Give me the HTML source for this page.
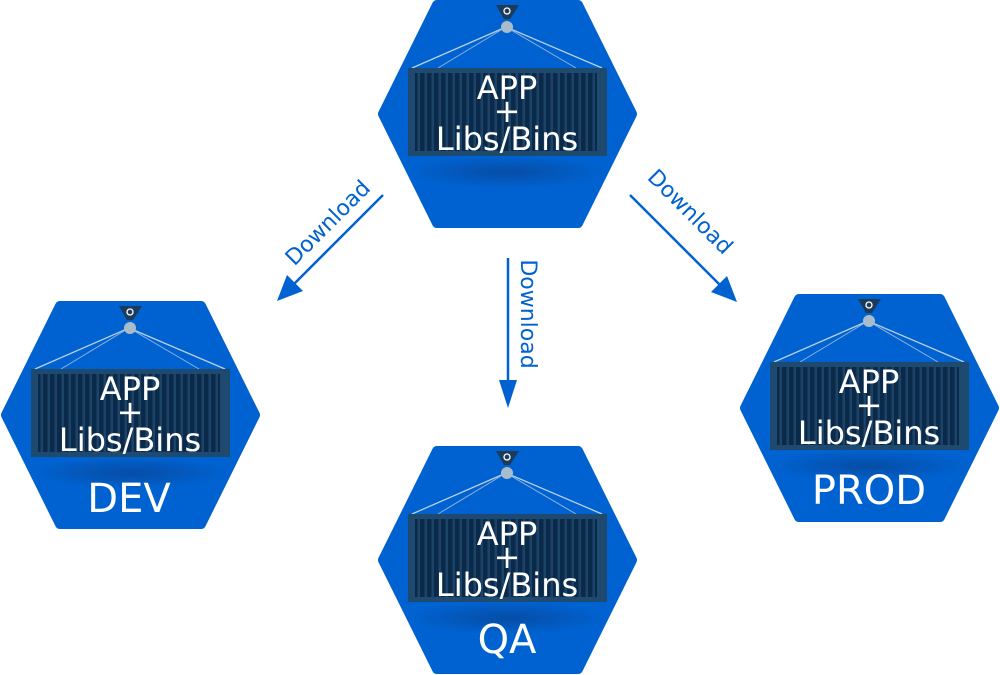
<!DOCTYPE html>
<html><head><meta charset="utf-8"><style>
html,body{margin:0;padding:0;background:#fff;width:1000px;height:675px;overflow:hidden}
text{font-family:"DejaVu Sans","Liberation Sans",sans-serif}
</style></head><body>
<svg width="1000" height="675" viewBox="0 0 1000 675" xmlns="http://www.w3.org/2000/svg">
<defs>
<pattern id="str" x="0" y="0" width="7" height="10" patternUnits="userSpaceOnUse">
<rect width="7" height="10" fill="#1c4468"/>
<rect x="1" width="4.5" height="10" fill="#0b2a4a"/>
</pattern>
<radialGradient id="sh" cx="0.5" cy="0.5" r="0.5">
<stop offset="0" stop-color="#0a3f8a" stop-opacity="0.6"/>
<stop offset="1" stop-color="#0a3f8a" stop-opacity="0"/>
</radialGradient>
<g id="hex">
<polygon points="6,114 60,5 201,5 255,114 201,223 60,223" fill="#0062d0" stroke="#0062d0" stroke-width="10" stroke-linejoin="round"/>
<ellipse cx="130" cy="172" rx="100" ry="16" fill="url(#sh)"/>
<line x1="129" y1="27" x2="35" y2="68" stroke="#b8cfe6" stroke-width="1.3"/>
<line x1="129" y1="27" x2="61" y2="68" stroke="#8fb2de" stroke-width="1"/>
<line x1="129" y1="27" x2="225" y2="68" stroke="#b8cfe6" stroke-width="1.3"/>
<line x1="129" y1="27" x2="199" y2="68" stroke="#8fb2de" stroke-width="1"/>
<polygon points="119,5 142,5 133,19 127,19" fill="#1c3a5a"/>
<circle cx="130" cy="11" r="3" fill="none" stroke="#fff" stroke-width="1.3"/>
<circle cx="130" cy="27" r="6" fill="#a9bccc"/>
<rect x="31" y="68" width="199" height="88" fill="#1e4a70"/>
<rect x="38" y="73" width="182" height="78" fill="url(#str)"/>
<text x="130" y="99" font-size="32" fill="#fff" text-anchor="middle">APP</text>
<text x="130" y="122" font-size="32" fill="#fff" text-anchor="middle">+</text>
<text x="130" y="150" font-size="32" fill="#fff" text-anchor="middle">Libs/Bins</text>
</g>
</defs>
<use href="#hex" x="377" y="0"/>
<use href="#hex" x="0" y="301"/>
<use href="#hex" x="377" y="446"/>
<use href="#hex" x="739" y="294"/>
<text x="129" y="512" font-size="40" fill="#fff" text-anchor="middle">DEV</text>
<text x="507" y="653" font-size="40" fill="#fff" text-anchor="middle">QA</text>
<text x="869" y="504" font-size="40" fill="#fff" text-anchor="middle">PROD</text>
<g stroke="#0062d0" stroke-width="2.5" fill="#0062d0">
<line x1="383" y1="195" x2="292" y2="286"/>
<polygon points="277,301 287,275 303,291" stroke="none"/>
<line x1="508" y1="258" x2="508" y2="390"/>
<polygon points="508,408 499,380 517,380" stroke="none"/>
<line x1="630" y1="195" x2="722" y2="287"/>
<polygon points="737,302 711,292 727,276" stroke="none"/>
</g>
<g fill="#0062d0" font-size="22">
<text transform="translate(333,228) rotate(-45)" text-anchor="middle">Download</text>
<text transform="translate(521,314) rotate(90)" text-anchor="middle">Download</text>
<text transform="translate(685,217) rotate(45)" text-anchor="middle">Download</text>
</g>
</svg>
</body></html>
